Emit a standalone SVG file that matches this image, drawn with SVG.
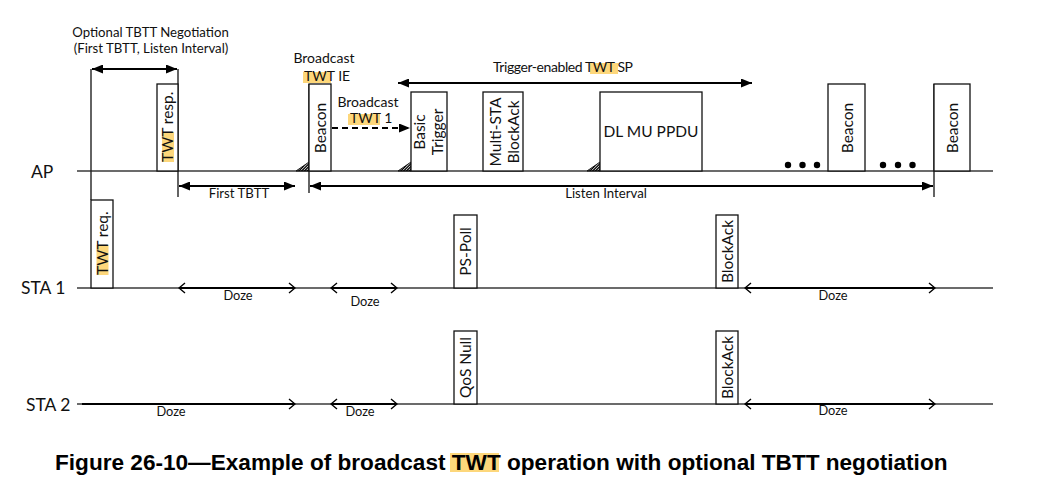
<svg xmlns="http://www.w3.org/2000/svg" width="1045" height="487" viewBox="0 0 1045 487">
<style>
.t{font-family:Lato,"Liberation Sans",sans-serif;fill:#111}
.s13{font-size:13.2px}
.s14{font-size:14px}
.s15{font-size:15.5px}
.s16{font-size:15.5px}
.s12{font-size:12.8px}
.s17{font-size:17.5px}
.box{fill:#fff;stroke:#111;stroke-width:1.3}
.tl{stroke:#3a3a3a;stroke-width:1.5;fill:none}
.vl{stroke:#222;stroke-width:1.4;fill:none}
.arr{stroke:#000;stroke-width:1.8;fill:none}
.dz{stroke:#000;stroke-width:2;fill:none}
.hl{fill:#FDD77B}
.hatl{stroke:#000;stroke-width:1.3}
.hato{fill:none;stroke:#111;stroke-width:0.9}
.cap{font-family:"Liberation Sans",Arial,sans-serif;font-weight:bold;font-size:22.6px;fill:#000}
</style>
<defs>
<marker id="ah" markerUnits="userSpaceOnUse" markerWidth="11" markerHeight="9" refX="11" refY="4.5" orient="auto-start-reverse" viewBox="0 0 11 9"><path d="M0,0 L11,4.5 L0,9 z" fill="#000"/></marker>
<marker id="chev" markerUnits="userSpaceOnUse" markerWidth="8" markerHeight="12" refX="7" refY="6" orient="auto-start-reverse" viewBox="0 0 8 12"><path d="M1,1 L7,6 L1,11" fill="none" stroke="#000" stroke-width="1.4"/></marker>
<clipPath id="tri"><polygon points="0,9 13,9 13,0"/></clipPath>
<g id="hatchTri">
  <g clip-path="url(#tri)">
    <path class="hatl" d="M-2,11 L9,0 M0.8,11 L11.8,0 M3.6,11 L14.6,0 M6.4,11 L17.4,0 M9.2,11 L20.2,0 M12,11 L23,0"/>
  </g>
  <polygon class="hato" points="0,9 13,9 13,0"/>
</g>
</defs>
<rect width="1045" height="487" fill="#fff"/>

<g id="connectors">
  <line class="tl" x1="77" y1="171" x2="993" y2="171"/>
  <line class="tl" x1="77" y1="288" x2="993" y2="288"/>
  <line class="tl" x1="77" y1="404" x2="993" y2="404"/>
  <line class="vl" x1="91" y1="69" x2="91" y2="200"/>
  <line class="vl" x1="178" y1="69" x2="178" y2="197"/>
  <line class="vl" x1="309" y1="84" x2="309" y2="193"/>
  <line class="vl" x1="934" y1="84" x2="934" y2="197"/>
  <line class="arr" x1="92" y1="69" x2="177" y2="69" marker-start="url(#ah)" marker-end="url(#ah)"/>
  <line class="arr" x1="179" y1="186" x2="295" y2="186" marker-start="url(#ah)" marker-end="url(#ah)"/>
  <line class="arr" x1="310" y1="186" x2="933" y2="186" marker-start="url(#ah)" marker-end="url(#ah)"/>
  <line class="arr" x1="398" y1="83" x2="752" y2="83" marker-start="url(#ah)" marker-end="url(#ah)"/>
  <line class="arr" x1="332" y1="128" x2="410" y2="128" stroke-dasharray="6,4" marker-end="url(#ah)"/>
  <line class="dz" x1="179" y1="288" x2="295" y2="288" marker-start="url(#chev)" marker-end="url(#chev)"/>
  <line class="dz" x1="331" y1="288" x2="397" y2="288" marker-start="url(#chev)" marker-end="url(#chev)"/>
  <line class="dz" x1="745" y1="288" x2="935" y2="288" marker-start="url(#chev)" marker-end="url(#chev)"/>
  <line class="dz" x1="82" y1="404" x2="295" y2="404" marker-end="url(#chev)"/>
  <line class="dz" x1="331" y1="404" x2="397" y2="404" marker-start="url(#chev)" marker-end="url(#chev)"/>
  <line class="dz" x1="745" y1="404" x2="935" y2="404" marker-start="url(#chev)" marker-end="url(#chev)"/>
  <use href="#hatchTri" x="296" y="162"/>
  <use href="#hatchTri" x="398" y="162"/>
  <use href="#hatchTri" x="587" y="162"/>
</g>

<g id="lane-labels">
  <text class="t s17" x="31" y="178">AP</text>
  <text class="t s17" x="21" y="294">STA 1</text>
  <text class="t s17" x="26" y="411">STA 2</text>
</g>

<g id="annotations">
  <text class="t s13" x="150.5" y="37" text-anchor="middle">Optional TBTT Negotiation</text>
  <text class="t s13" x="151" y="53" text-anchor="middle">(First TBTT, Listen Interval)</text>
  <text class="t s13" x="239" y="198" text-anchor="middle">First TBTT</text>
  <text class="t s13" x="606" y="198" text-anchor="middle">Listen Interval</text>
  <rect class="hl" x="303" y="72" width="28" height="11"/>
  <text class="t s14" x="324" y="63" text-anchor="middle">Broadcast</text>
  <text class="t s14" x="304" y="81">TWT IE</text>
  <rect class="hl" x="348" y="114" width="32" height="11"/>
  <text class="t s14" x="368" y="107" text-anchor="middle">Broadcast</text>
  <text class="t s14" x="350" y="123">TWT 1</text>
  <rect class="hl" x="590" y="63" width="28" height="11"/>
  <text class="t s14" x="493" y="72" textLength="140">Trigger-enabled TWT SP</text>
  <g id="ellipsis" fill="#000">
    <circle cx="788" cy="165" r="3.2"/><circle cx="802.5" cy="165" r="3.2"/><circle cx="817" cy="165" r="3.2"/>
    <circle cx="883" cy="165" r="3.2"/><circle cx="898" cy="165" r="3.2"/><circle cx="912.5" cy="165" r="3.2"/>
  </g>
  <text class="t s12" x="238" y="300" text-anchor="middle">Doze</text>
  <text class="t s12" x="365" y="306" text-anchor="middle">Doze</text>
  <text class="t s12" x="833" y="300" text-anchor="middle">Doze</text>
  <text class="t s12" x="171" y="416" text-anchor="middle">Doze</text>
  <text class="t s12" x="360" y="416" text-anchor="middle">Doze</text>
  <text class="t s12" x="833" y="415" text-anchor="middle">Doze</text>
</g>

<g id="twt-resp">
  <rect class="box" x="157" y="84" width="21" height="87"/>
  <rect class="hl" x="162" y="132" width="12" height="30"/>
  <text class="t s15" x="-162" y="173" transform="rotate(-90)">TWT resp.</text>
</g>
<g id="beacon-1">
  <rect class="box" x="309" y="84" width="22" height="87"/>
  <text class="t s15" transform="translate(326,128) rotate(-90)" text-anchor="middle">Beacon</text>
</g>
<g id="basic-trigger">
  <rect class="box" x="411" y="92" width="36" height="79"/>
  <text class="t s15" transform="translate(425,132) rotate(-90)" text-anchor="middle">Basic</text>
  <text class="t s15" transform="translate(443,132) rotate(-90)" text-anchor="middle">Trigger</text>
</g>
<g id="multi-sta-blockack">
  <rect class="box" x="483" y="92" width="40" height="79"/>
  <text class="t s15" transform="translate(501,132) rotate(-90)" text-anchor="middle">Multi-STA</text>
  <text class="t s15" transform="translate(519,132) rotate(-90)" text-anchor="middle">BlockAck</text>
</g>
<g id="dl-mu-ppdu">
  <rect class="box" x="600" y="92" width="102" height="79"/>
  <text class="t s16" x="651" y="137" text-anchor="middle">DL MU PPDU</text>
</g>
<g id="beacon-2">
  <rect class="box" x="828" y="84" width="37" height="87"/>
  <text class="t s15" transform="translate(853,128) rotate(-90)" text-anchor="middle">Beacon</text>
</g>
<g id="beacon-3">
  <rect class="box" x="934" y="84" width="36" height="87"/>
  <text class="t s15" transform="translate(958,128) rotate(-90)" text-anchor="middle">Beacon</text>
</g>
<g id="twt-req">
  <rect class="box" x="91" y="200" width="22" height="88"/>
  <rect class="hl" x="96.5" y="245" width="12" height="30"/>
  <text class="t s15" x="-275" y="107.5" transform="rotate(-90)">TWT req.</text>
</g>
<g id="ps-poll">
  <rect class="box" x="454" y="215" width="23" height="73"/>
  <text class="t s15" transform="translate(470.5,251.5) rotate(-90)" text-anchor="middle">PS-Poll</text>
</g>
<g id="blockack-sta1">
  <rect class="box" x="716" y="215" width="22" height="73"/>
  <text class="t s15" transform="translate(732.5,251.5) rotate(-90)" text-anchor="middle">BlockAck</text>
</g>
<g id="qos-null">
  <rect class="box" x="454" y="331" width="23" height="73"/>
  <text class="t s15" transform="translate(471,367.5) rotate(-90)" text-anchor="middle">QoS Null</text>
</g>
<g id="blockack-sta2">
  <rect class="box" x="716" y="331" width="22" height="73"/>
  <text class="t s15" transform="translate(732.5,367.5) rotate(-90)" text-anchor="middle">BlockAck</text>
</g>

<g id="caption">
  <rect class="hl" x="450" y="453" width="49" height="19"/>
  <text class="cap" x="55" y="470">Figure 26-10—Example of broadcast TWT operation with optional TBTT negotiation</text>
</g>
</svg>
